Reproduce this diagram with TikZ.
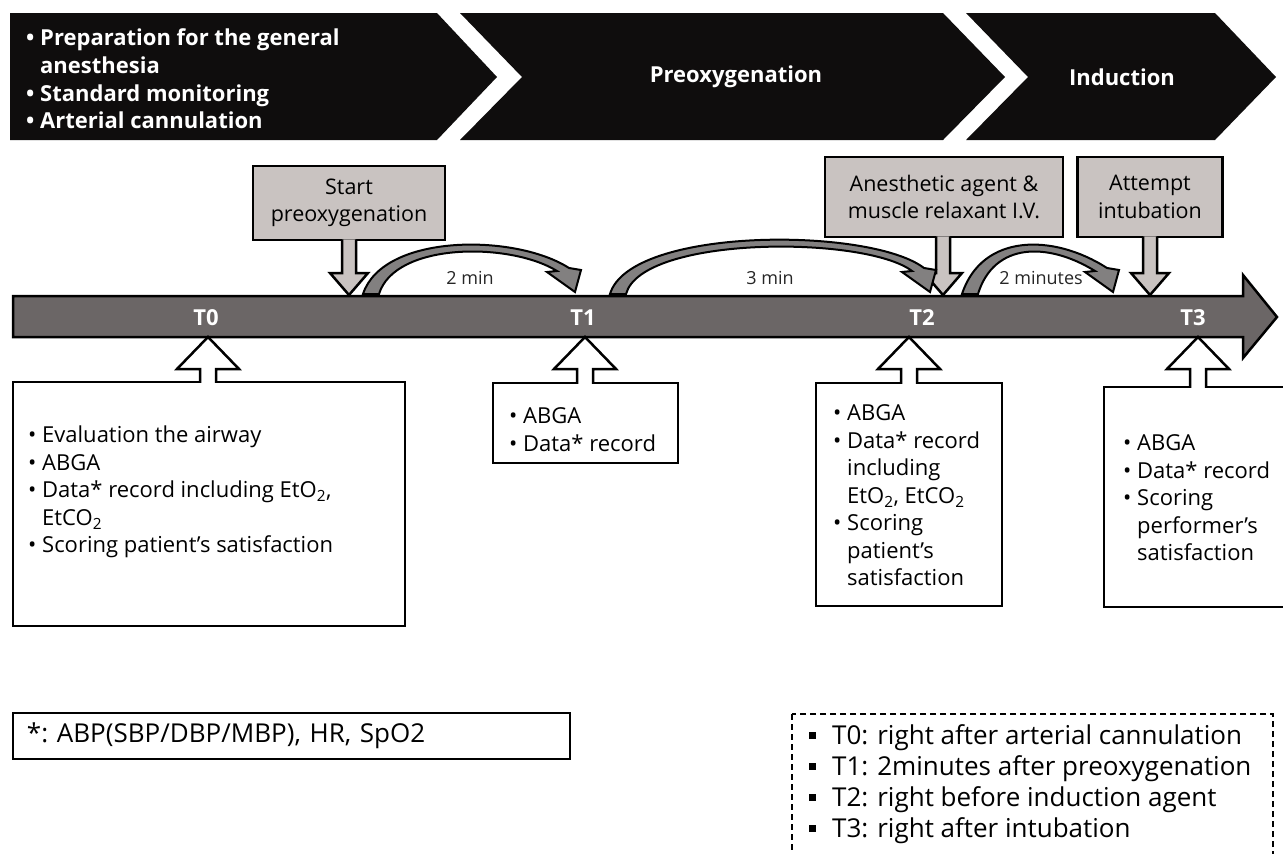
\documentclass[tikz,border=0pt]{standalone}
\usepackage{fontspec}
\setmainfont{Open Sans}
\usepackage{tikz}
\usetikzlibrary{calc}
\RequirePackage{xcolor}
\definecolor{bandblack}{HTML}{0F0D0D}
\definecolor{bargray}{HTML}{6B6666}
\definecolor{callgray}{HTML}{C9C3C1}
\definecolor{arcgray}{HTML}{828080}
\newcommand{\itembul}{\makebox[14pt][l]{\textbullet}}
\newcommand{\bulgap}{\hspace*{14pt}}
\newcommand{\sqbul}{\rule[6pt]{7pt}{7pt}\hspace{16pt}}
\newcommand{\downcall}[2]{%
	\filldraw[callarrow] ($(#2 |- #1.south)+(-7,-2)$) -- ($(#2)+(-7,-22)$) -- ($(#2)+(-19,-22)$) -- (#2)
		-- ($(#2)+(19,-22)$) -- ($(#2)+(7,-22)$) -- ($(#2 |- #1.south)+(7,-2)$);}
\newcommand{\upcall}[2]{%
	\filldraw[uparrow] ($(#2 |- #1.north)+(-8,2)$) -- ($(#2)+(-8,32)$) -- ($(#2)+(-31,32)$) -- (#2)
		-- ($(#2)+(31,32)$) -- ($(#2)+(8,32)$) -- ($(#2 |- #1.north)+(8,2)$);}
% tail x, tip x, top of the arc
\newcommand{\timearc}[3]{%
	\pgfmathsetmacro{\arcout}{(8*#3-560)/6}%
	\pgfmathsetmacro{\arcin}{(8*(#3+7)-564)/6}%
	\filldraw[curvearrow] (#1,294) .. controls ({#1+20},\arcout) and ({#2-60},\arcout) .. ({#2-6},268)
		-- ({#2+6},270) -- (#2,292) -- ({#2-28},272) -- ({#2-18},271)
		.. controls ({#2-65},\arcin) and ({#1+32},\arcin) .. ({#1+16},294) -- cycle;}

\begin{document}
\begin{tikzpicture}[x=1pt, y=-1pt,
	band/.style={fill=bandblack},
	bandtext/.style={text=white, font=\bfseries\fontsize{22}{27.7}\selectfont, inner sep=0},
	bar/.style={fill=bargray, draw=black, line width=2.5pt, line join=miter},
	tlabel/.style={text=white, font=\bfseries\fontsize{22}{26}\selectfont},
	callbox/.style={draw=black, fill=callgray, line width=2.5pt, align=center, font=\fontsize{21.5}{27.5}\selectfont},
	callarrow/.style={draw=black, fill=callgray, line width=2.5pt, line join=miter},
	curvearrow/.style={draw=black, fill=arcgray, line width=2pt, line join=miter},
	gaplabel/.style={font=\fontsize{18}{22}\selectfont, text=black!85},
	infobox/.style={draw=black, fill=white, line width=2.5pt},
	infotext/.style={anchor=west, align=left, inner sep=0, font=\fontsize{22}{27.5}\selectfont},
	uparrow/.style={draw=black, fill=white, line width=2.5pt, line join=miter},
	notebox/.style={draw=black, line width=1.2pt, align=left, inner xsep=14pt, font=\fontsize{26}{31}\selectfont},
	legendline/.style={draw=black, line width=1.5pt, dash pattern=on 6pt off 4pt},
	legendtext/.style={anchor=west, align=left, inner sep=0, font=\fontsize{26}{31}\selectfont}]
	\path[use as bounding box, clip] (0,0) rectangle (1283,854);

	\fill[band] (10,13) -- (437,13) -- (497,77) -- (437,140) -- (10,140) -- cycle;
	\fill[band] (460,13) -- (943,13) -- (1005,77) -- (943,140) -- (460,140) -- (522,77) -- cycle;
	\fill[band] (966,13) -- (1215,13) -- (1276,77) -- (1215,140) -- (966,140) -- (1028,77) -- cycle;
	\node[bandtext, anchor=west, align=left] (prep) at (26,79) {\itembul Preparation for the general\\
		\bulgap anesthesia\\ \itembul Standard monitoring\\ \itembul Arterial cannulation};
	\node[bandtext] (preox) at (736,77) {Preoxygenation};
	\node[bandtext] (induct) at (1122,77) {Induction};

	\filldraw[bar] (13,296) -- (1243,296) -- (1243,275) -- (1277,317) -- (1243,358) -- (1243,337) -- (13,337) -- cycle;
	\node[tlabel] (t0) at (206,318) {T0};
	\node[tlabel] (t1) at (583,318) {T1};
	\node[tlabel] (t2) at (922,318) {T2};
	\node[tlabel] (t3) at (1193,318) {T3};

	\node[callbox, minimum width=192pt, minimum height=74pt] (startbox) at (349,203) {Start\\preoxygenation};
	\node[callbox, minimum width=238pt, minimum height=80pt] (agentbox) at (944,197) {Anesthetic agent \&\\muscle relaxant I.V.};
	\node[callbox, minimum width=145pt, minimum height=80pt] (intubbox) at (1150,197) {Attempt\\intubation};
	\coordinate (starttip) at (349,295);
	\coordinate (agenttip) at (943,295);
	\coordinate (intubtip) at (1150,295);
	\downcall{startbox}{starttip}
	\downcall{agentbox}{agenttip}
	\downcall{intubbox}{intubtip}

	\timearc{363}{575}{245}
	\timearc{610}{930}{240}
	\timearc{962}{1113}{245}
	\node[gaplabel] (gap1) at (470,278) {2 min};
	\node[gaplabel] (gap2) at (770,278) {3 min};
	\node[gaplabel] (gap3) at (1041,278) {2 minutes};

	\node[infobox, minimum width=392pt, minimum height=244pt] (t0box) at (209,504) {};
	\node[infobox, minimum width=185pt, minimum height=80pt] (t1box) at (585.5,423) {};
	\node[infobox, minimum width=186pt, minimum height=223pt] (t2box) at (909,494.5) {};
	\node[infobox, minimum width=188pt, minimum height=220pt] (t3box) at (1198,497) {};
	\coordinate (t0tip) at (208,337);
	\coordinate (t1tip) at (585,337);
	\coordinate (t2tip) at (909,337);
	\coordinate (t3tip) at (1198,337);
	\upcall{t0box}{t0tip}
	\upcall{t1box}{t1tip}
	\upcall{t2box}{t2tip}
	\upcall{t3box}{t3tip}
	\node[infotext] (t0text) at (28,492) {\itembul Evaluation the airway\\ \itembul ABGA\\
		\itembul Data* record including EtO\textsubscript{2},\\ \bulgap EtCO\textsubscript{2}\\
		\itembul Scoring patient’s satisfaction};
	\node[infotext] (t1text) at (509,429.5) {\itembul ABGA\\ \itembul Data* record};
	\node[infotext] (t2text) at (833,495.5) {\itembul ABGA\\ \itembul Data* record\\ \bulgap including\\
		\bulgap EtO\textsubscript{2}, EtCO\textsubscript{2}\\ \itembul Scoring\\ \bulgap patient’s\\ \bulgap satisfaction};
	\node[infotext] (t3text) at (1123,498) {\itembul ABGA\\ \itembul Data* record\\ \itembul Scoring\\
		\bulgap performer’s\\ \bulgap satisfaction};

	\node[notebox, minimum width=557pt, minimum height=46pt, text width=529pt] (footnote) at (291.5,736) {*:~ABP(SBP/DBP/MBP), HR, SpO2};
	\draw[legendline] (792,714) rectangle (1273,880);
	\node[legendtext] (legend) at (809,784.5) {\sqbul T0: right after arterial cannulation\\
		\sqbul T1: 2minutes after preoxygenation\\ \sqbul T2: right before induction agent\\
		\sqbul T3: right after intubation};
\end{tikzpicture}
\end{document}
